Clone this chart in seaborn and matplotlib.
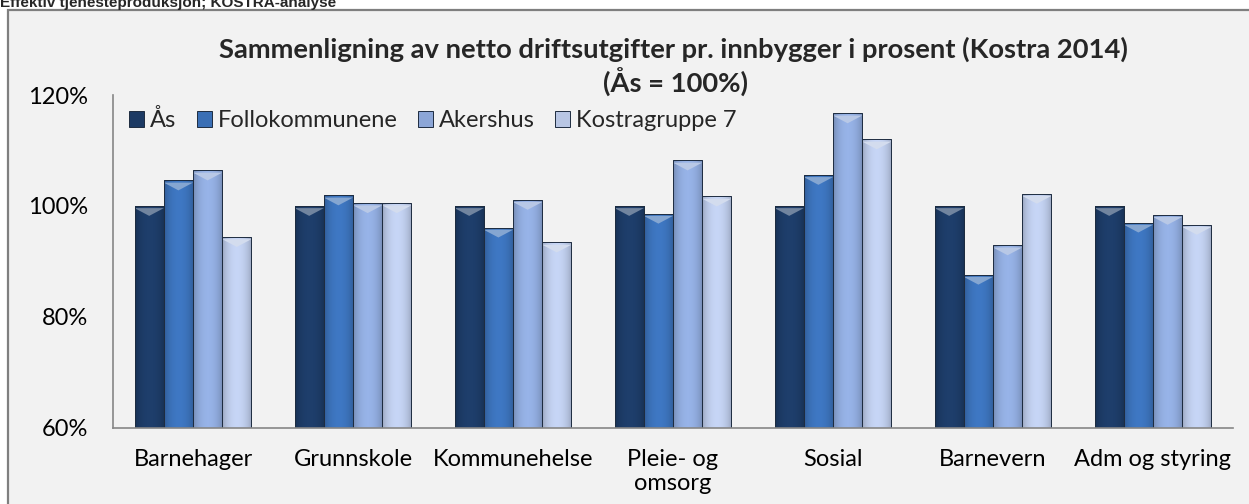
import numpy as np
import pandas as pd
import seaborn as sns
import matplotlib
matplotlib.use("Agg")
import matplotlib.pyplot as plt
from matplotlib.patches import Rectangle, Polygon
from matplotlib.colors import to_rgb

# ---------------- data ----------------
categories = ["Barnehager", "Grunnskole", "Kommunehelse", "Pleie- og\nomsorg",
              "Sosial", "Barnevern", "Adm og styring"]
series = ["Ås", "Follokommunene", "Akershus", "Kostragruppe 7"]
aas = [100, 100, 100, 100, 100, 100, 100]
follo = [104.6, 101.9, 96.1, 98.6, 105.6, 87.6, 97.0]
akershus = [106.4, 100.5, 101.1, 108.2, 116.7, 92.9, 98.4]
kostra = [94.4, 100.5, 93.4, 101.7, 112.0, 102.2, 96.6]
yticks = [60, 80, 100, 120]
ytick_labels = ["60%", "80%", "100%", "120%"]
colors = ["#1C3A64", "#3A6FB5", "#8CA6D7", "#B8C6E4"]

df = pd.DataFrame({
    "Kategori": categories * 4,
    "Serie": sum([[s] * len(categories) for s in series], []),
    "Verdi": aas + follo + akershus + kostra,
})

sns.set_style("white")
plt.rcParams["font.family"] = ["Lato", "DejaVu Sans"]

W, H = 1249, 504
fig = plt.figure(figsize=(W / 100, H / 100), dpi=100, facecolor="white")

# outer chart box
box = Rectangle((8 / W, -0.05), 1.2, (H - 9.5) / H + 0.05,
                transform=fig.transFigure, facecolor="#F2F2F2",
                edgecolor="#7F7F7F", linewidth=1.6, zorder=-10)
fig.add_artist(box)
# cut-off heading above the chart
fig.text(0.0, 1 - 6.5 / H, "Effektiv tjenesteproduksjon; KOSTRA-analyse",
         family="Liberation Sans", fontweight="bold", fontsize=11,
         va="baseline", ha="left")

ax = fig.add_axes([113 / W, (H - 427.7) / H, 1120 / W, (427.7 - 95) / H])
ax.set_facecolor("none")

sns.barplot(data=df, x="Kategori", y="Verdi", hue="Serie", palette=colors,
            width=0.73, saturation=1, errorbar=None, ax=ax,
            edgecolor="#1E2C40", linewidth=0.7)

ax.set_ylim(60, 120)
ax.set_xlim(-0.5, len(categories) - 0.5)

# 3D-ish shading on bars
for patch in list(ax.patches):
    if not isinstance(patch, Rectangle) or patch.get_height() <= 0:
        continue
    x0 = patch.get_x(); w = patch.get_width(); top = patch.get_height()
    base = np.array(to_rgb(patch.get_facecolor()))
    t = np.linspace(0, 1, 64)
    shade = 0.80 + 0.28 * np.sin(np.pi * t) ** 0.6
    grad = np.clip(base[None, :] * shade[:, None], 0, 1)[None, :, :]
    im = ax.imshow(grad, extent=[x0, x0 + w, 60, top], aspect="auto",
                   zorder=patch.get_zorder(), interpolation="bicubic")
    im.set_clip_path(patch)
    light = base + (1 - base) * 0.38
    tri = Polygon([(x0, top - 0.4), (x0 + w, top - 0.4), (x0 + w / 2, top - 1.8)],
                  closed=True, facecolor=light, edgecolor="none",
                  zorder=patch.get_zorder() + 0.1)
    ax.add_patch(tri)
    patch.set_facecolor("none")
    patch.set_zorder(patch.get_zorder() + 0.2)
ax.set_ylim(60, 120)
ax.set_xlim(-0.5, len(categories) - 0.5)

# axes styling
for side in ["top", "right"]:
    ax.spines[side].set_visible(False)
for side in ["left", "bottom"]:
    ax.spines[side].set_color("#868686")
    ax.spines[side].set_linewidth(1.2)

ax.set_yticks(yticks)
ax.set_yticklabels(ytick_labels)
ax.set_xticks(range(len(categories)))
ax.set_xticklabels(categories, linespacing=1.2)
ax.set_xticks(np.arange(-0.5, len(categories)), minor=True)
ax.tick_params(axis="x", which="major", length=0, pad=15, labelsize=17,
               labelcolor="black")
ax.tick_params(axis="x", which="minor", length=5, width=1.2, color="#868686",
               direction="out")
ax.tick_params(axis="y", length=6, width=1.2, color="#868686", pad=12,
               labelsize=17, labelcolor="black")
ax.set_xlabel("")
ax.set_ylabel("")

leg = ax.legend(ncol=4, loc="center left", bbox_to_anchor=(0.0143, 0.925),
                frameon=False, fontsize=17, handlelength=0.65,
                handleheight=0.65, handletextpad=0.25, columnspacing=0.85,
                borderaxespad=0, borderpad=0)

fig.text(673 / W, 1 - 49 / H,
         "Sammenligning av netto driftsutgifter pr. innbygger i prosent (Kostra 2014)",
         ha="center", va="center", fontsize=19.7, fontweight="bold")
fig.text(675 / W, 1 - 82 / H, "(Ås = 100%)", ha="center", va="center",
         fontsize=19.7, fontweight="bold")

fig.savefig("out.png", dpi=100, facecolor="white")
